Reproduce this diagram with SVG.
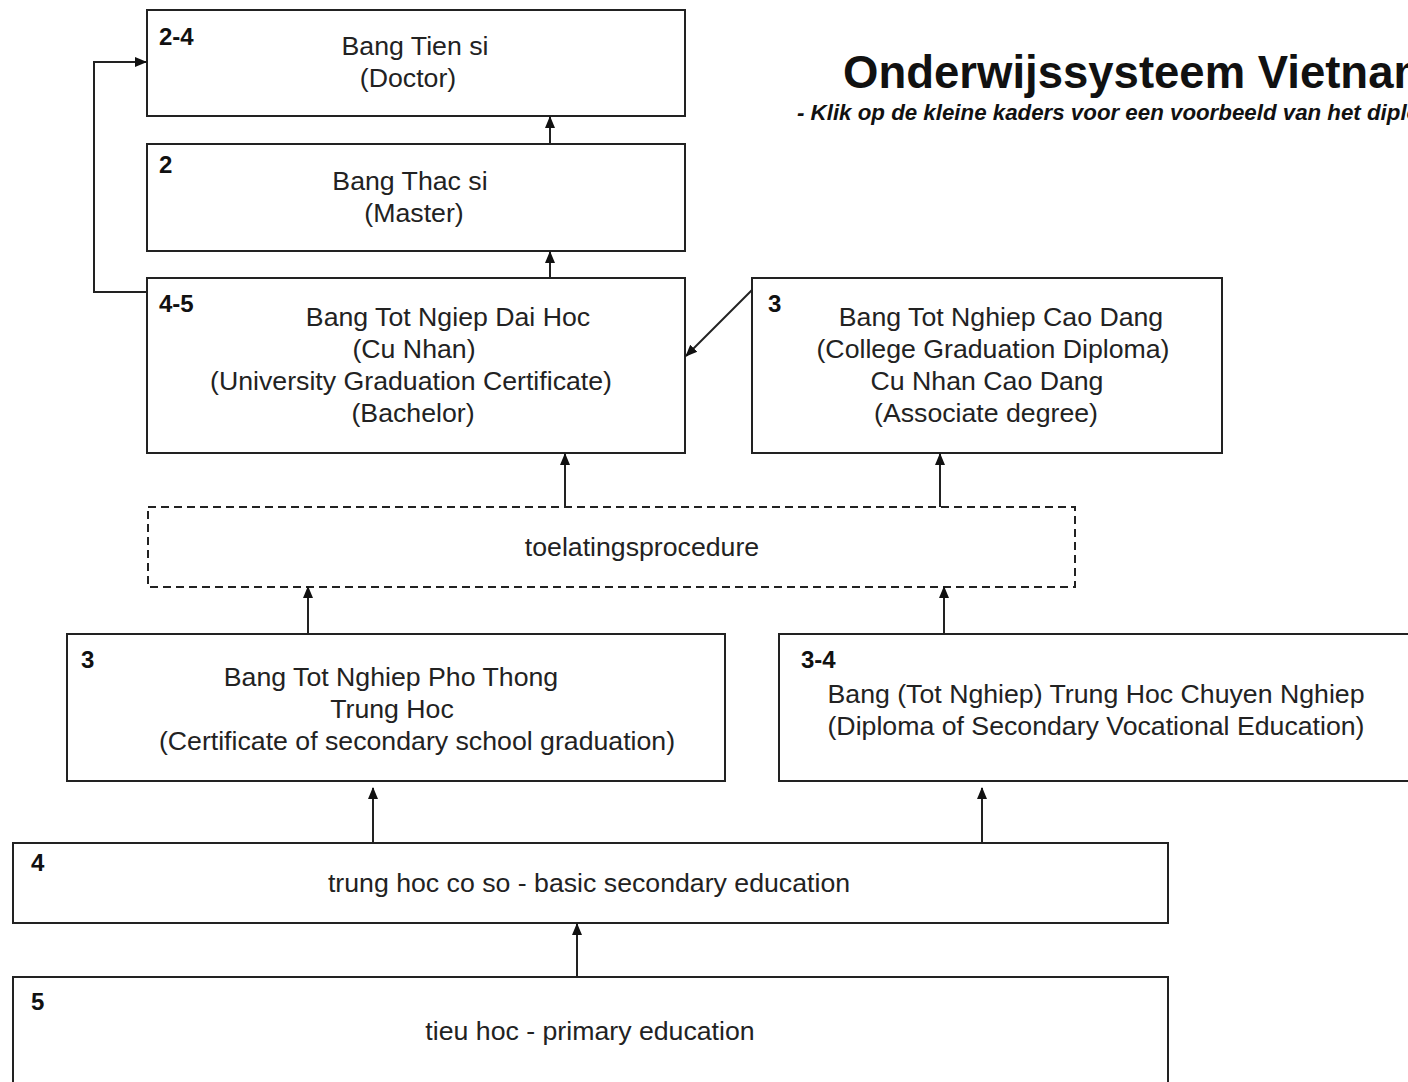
<svg xmlns="http://www.w3.org/2000/svg" width="1408" height="1082" viewBox="0 0 1408 1082">
<defs>
<marker id="ah" viewBox="0 0 12 12" refX="11" refY="6" markerWidth="12" markerHeight="12" markerUnits="userSpaceOnUse" orient="auto">
<path d="M0,1 L12,6 L0,11 Z" fill="#111"/>
</marker>
<style>
.box{fill:#fff;stroke:#222;stroke-width:2}
.dash{fill:#fff;stroke:#222;stroke-width:2;stroke-dasharray:8,5}
.t{font-family:"Liberation Sans",Arial,sans-serif;font-size:26.7px;fill:#222;text-anchor:middle}
.n{font-family:"Liberation Sans",Arial,sans-serif;font-size:24px;font-weight:bold;fill:#111}
.c{fill:none;stroke:#222;stroke-width:2;marker-end:url(#ah)}
</style>
</defs>
<rect width="1408" height="1082" fill="#fff"/>

<g id="title">
<text x="843" y="88" font-family="Liberation Sans,Arial,sans-serif" font-size="45.5" font-weight="bold" fill="#111">Onderwijssysteem Vietnam</text>
<text x="797" y="120" font-family="Liberation Sans,Arial,sans-serif" font-size="22.3" font-weight="bold" font-style="italic" fill="#111">- Klik op de kleine kaders voor een voorbeeld van het diploma</text>
</g>

<g id="doctor">
<rect class="box" x="147" y="10" width="538" height="106"/>
<text class="n" x="159" y="45">2-4</text>
<text class="t" x="415" y="55">Bang Tien si</text>
<text class="t" x="408" y="87">(Doctor)</text>
</g>

<g id="master">
<rect class="box" x="147" y="144" width="538" height="107"/>
<text class="n" x="159" y="173">2</text>
<text class="t" x="410" y="190">Bang Thac si</text>
<text class="t" x="414" y="222">(Master)</text>
</g>

<g id="bachelor">
<rect class="box" x="147" y="278" width="538" height="175"/>
<text class="n" x="159" y="312">4-5</text>
<text class="t" x="448" y="326">Bang Tot Ngiep Dai Hoc</text>
<text class="t" x="414" y="358">(Cu Nhan)</text>
<text class="t" x="411" y="390">(University Graduation Certificate)</text>
<text class="t" x="413" y="422">(Bachelor)</text>
</g>

<g id="college">
<rect class="box" x="752" y="278" width="470" height="175"/>
<text class="n" x="768" y="312">3</text>
<text class="t" x="1001" y="326">Bang Tot Nghiep Cao Dang</text>
<text class="t" x="993" y="358">(College Graduation Diploma)</text>
<text class="t" x="987" y="390">Cu Nhan Cao Dang</text>
<text class="t" x="986" y="422">(Associate degree)</text>
</g>

<g id="toelating">
<rect class="dash" x="148" y="507" width="927" height="80"/>
<text class="t" x="642" y="556">toelatingsprocedure</text>
</g>

<g id="phothong">
<rect class="box" x="67" y="634" width="658" height="147"/>
<text class="n" x="81" y="668">3</text>
<text class="t" x="391" y="686">Bang Tot Nghiep Pho Thong</text>
<text class="t" x="392" y="718">Trung Hoc</text>
<text class="t" x="417" y="750">(Certificate of secondary school graduation)</text>
</g>

<g id="vocational">
<rect class="box" x="779" y="634" width="640" height="147"/>
<text class="n" x="801" y="668">3-4</text>
<text class="t" x="1096" y="703">Bang (Tot Nghiep) Trung Hoc Chuyen Nghiep</text>
<text class="t" x="1096" y="735">(Diploma of Secondary Vocational Education)</text>
</g>

<g id="basic">
<rect class="box" x="13" y="843" width="1155" height="80"/>
<text class="n" x="31" y="871">4</text>
<text class="t" x="589" y="892">trung hoc co so - basic secondary education</text>
</g>

<g id="primary">
<rect class="box" x="13" y="977" width="1155" height="120"/>
<text class="n" x="31" y="1010">5</text>
<text class="t" x="590" y="1040">tieu hoc - primary education</text>
</g>

<g id="connectors">
<line class="c" x1="550" y1="144" x2="550" y2="117"/>
<line class="c" x1="550" y1="278" x2="550" y2="252"/>
<polyline class="c" points="147,292 94,292 94,62 146,62"/>
<line class="c" x1="752" y1="290" x2="686" y2="356"/>
<line class="c" x1="565" y1="507" x2="565" y2="454"/>
<line class="c" x1="940" y1="507" x2="940" y2="454"/>
<line class="c" x1="308" y1="634" x2="308" y2="587"/>
<line class="c" x1="944" y1="634" x2="944" y2="587"/>
<line class="c" x1="373" y1="843" x2="373" y2="788"/>
<line class="c" x1="982" y1="843" x2="982" y2="788"/>
<line class="c" x1="577" y1="977" x2="577" y2="924"/>
</g>
</svg>
